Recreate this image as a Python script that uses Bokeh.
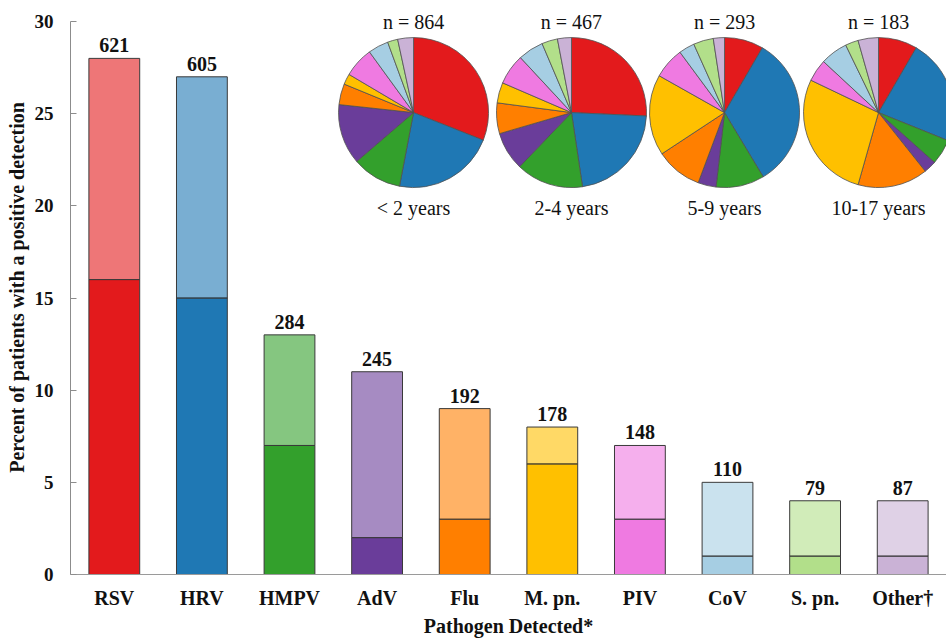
import numpy as np
from bokeh.plotting import figure
from bokeh.models import (ColumnDataSource, FactorRange, Range1d, Label,
                          SingleIntervalTicker)
from bokeh.core.properties import value
from bokeh.embed import file_html
from bokeh.resources import INLINE

# ---- data -------------------------------------------------------------
pathogens = ["RSV", "HRV", "HMPV", "AdV", "Flu", "M. pn.", "PIV", "CoV", "S. pn.", "Other\u2020"]
total_pct = [28, 27, 13, 11, 9, 8, 7, 5, 4, 4]
single_pct = [16, 15, 7, 2, 3, 6, 3, 1, 1, 1]
patient_counts = [621, 605, 284, 245, 192, 178, 148, 110, 79, 87]
pathogen_colors = ["#e31a1c", "#1f78b4", "#33a02c", "#6a3d9a", "#ff7f00",
                   "#ffc000", "#ef7ae1", "#a6cee3", "#b2df8a", "#cab2d6"]

age_groups = ["< 2 years", "2-4 years", "5-9 years", "10-17 years"]
age_n = [864, 467, 293, 183]
share_lt2 = [31.0, 22.0, 10.7, 13.0, 4.5, 2.3, 6.5, 4.4, 2.2, 3.4]
share_2to4 = [25.7, 21.9, 14.5, 8.3, 6.6, 4.4, 6.6, 5.5, 3.4, 3.0]
share_5to9 = [8.4, 32.9, 10.4, 3.9, 10.0, 17.4, 6.7, 3.4, 4.3, 2.4]
share_10to17 = [8.4, 22.7, 5.5, 2.7, 15.1, 27.7, 4.8, 5.9, 2.8, 4.4]
age_shares = [share_lt2, share_2to4, share_5to9, share_10to17]

SERIF = "Liberation Serif"
INK = "#111111"

# ---- figure -----------------------------------------------------------
# the frame reaches the top edge so the pie headers have room; the
# y axis itself is bounded to 0..30
p = figure(width=946, height=639,
           x_range=FactorRange(*pathogens), y_range=Range1d(0, 31.14),
           output_backend="svg", toolbar_location=None,
           min_border_left=70, min_border_right=0,
           min_border_top=0, min_border_bottom=65)
p.outline_line_color = None
p.grid.grid_line_color = None
p.background_fill_color = "white"

src = ColumnDataSource(dict(cat=pathogens, total=total_pct, single=single_pct,
                            color=pathogen_colors,
                            label=[str(c) for c in patient_counts]))

# lower (solid) segment and upper (tinted) segment of each bar
p.vbar(x="cat", bottom=0, top="single", width=0.58, source=src,
       fill_color="color", line_color="#3a3a3a", line_width=1)
p.vbar(x="cat", bottom="single", top="total", width=0.58, source=src,
       fill_color="color", fill_alpha=0.6, line_color="#3a3a3a", line_width=1)

p.text(x="cat", y="total", text="label", source=src,
       text_align="center", text_baseline="bottom", y_offset=-6,
       text_font=value(SERIF), text_font_style="bold",
       text_font_size="20px", text_color=INK)

# ---- axes -------------------------------------------------------------
yax = p.yaxis[0]
yax.bounds = (0, 30)
yax.ticker = SingleIntervalTicker(interval=5)
yax.minor_tick_line_color = None
yax.major_tick_in = 6
yax.major_tick_out = 0
yax.major_label_standoff = 13
yax.axis_line_color = "#8c8c8c"
yax.major_tick_line_color = "#8c8c8c"
yax.major_label_text_font = SERIF
yax.major_label_text_font_style = "bold"
yax.major_label_text_font_size = "19px"
yax.major_label_text_color = INK
yax.axis_label = "Percent of patients with a positive detection"
yax.axis_label_standoff = 4
yax.axis_label_text_font = SERIF
yax.axis_label_text_font_style = "bold"
yax.axis_label_text_font_size = "20px"
yax.axis_label_text_color = INK

xax = p.xaxis[0]
xax.major_tick_line_color = None
xax.minor_tick_line_color = None
xax.axis_line_color = "#9a9a9a"
xax.major_label_standoff = 6
xax.major_label_text_font = SERIF
xax.major_label_text_font_style = "bold"
xax.major_label_text_font_size = "20px"
xax.major_label_text_color = INK
xax.axis_label = "Pathogen Detected*"
xax.axis_label_standoff = 3
xax.axis_label_text_font = SERIF
xax.axis_label_text_font_style = "bold"
xax.axis_label_text_font_size = "20px"
xax.axis_label_text_color = INK

# ---- inset pies by age group -----------------------------------------
pie_cx = [3.916, 5.719, 7.466, 9.224]
pie_cy = 25.06
for cx, group, n, shares in zip(pie_cx, age_groups, age_n, age_shares):
    frac = np.asarray(shares, dtype=float)
    frac = frac / frac.sum()
    cum = np.concatenate([[0.0], np.cumsum(frac)])
    start = np.pi / 2 - cum[:-1] * 2 * np.pi
    end = np.pi / 2 - cum[1:] * 2 * np.pi
    wsrc = ColumnDataSource(dict(x=[cx] * len(frac), y=[pie_cy] * len(frac),
                                 start=start, end=end, color=pathogen_colors))
    p.wedge(x="x", y="y", radius=75, radius_units="screen",
            start_angle="start", end_angle="end", direction="clock",
            fill_color="color", line_color="#505050", line_width=0.8,
            source=wsrc)
    p.add_layout(Label(x=cx, y=29.95, text=f"n = {n}", text_align="center",
                       text_baseline="middle", text_font=SERIF,
                       text_font_size="20px", text_color=INK))
    p.add_layout(Label(x=cx, y=19.86, text=group, text_align="center",
                       text_baseline="middle", text_font=SERIF,
                       text_font_size="20px", text_color=INK))

open("out.html", "w").write(file_html(p, INLINE))
